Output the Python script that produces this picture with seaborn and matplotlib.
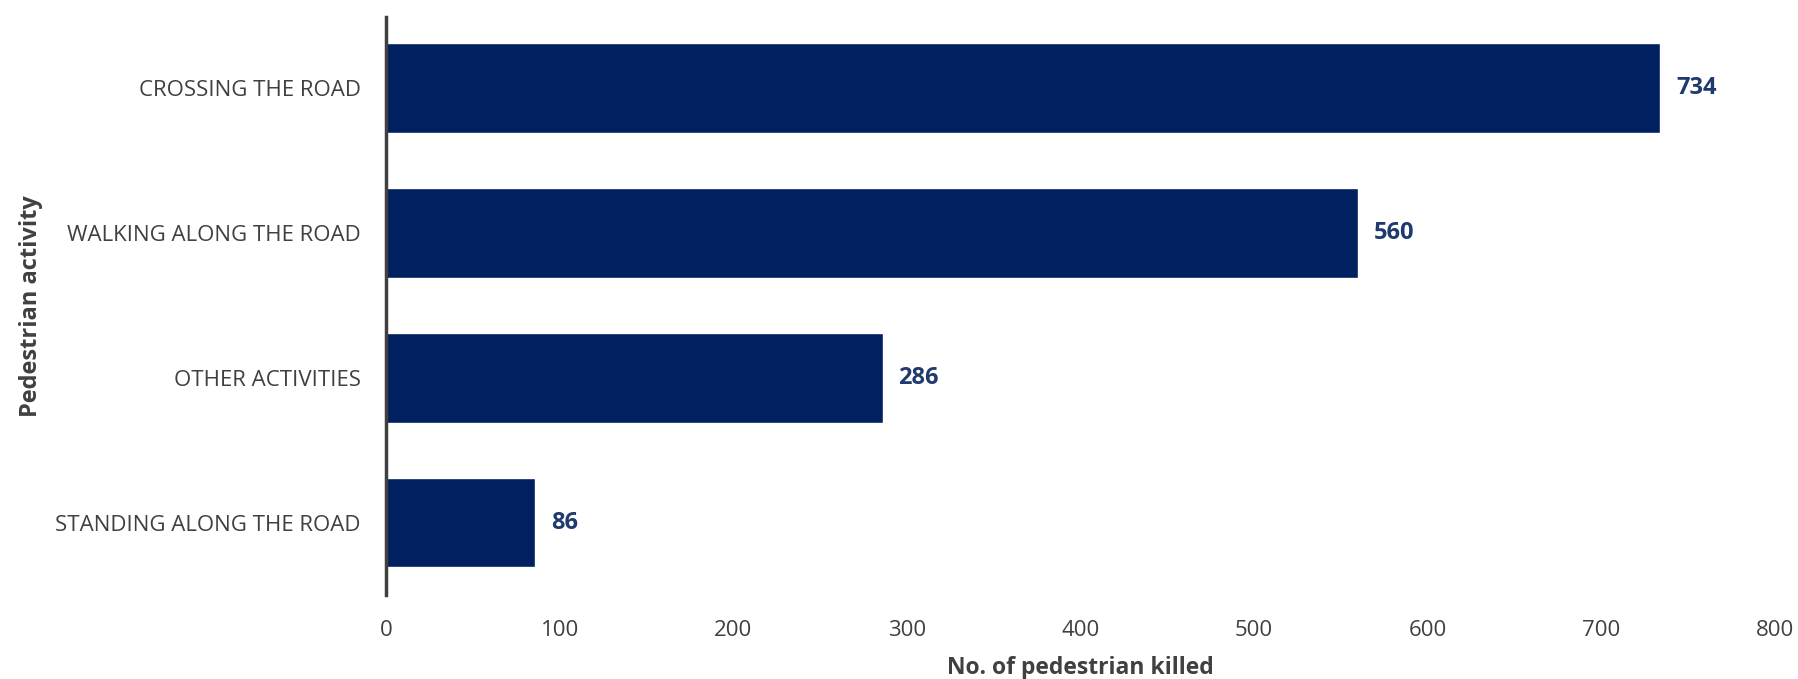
import matplotlib
matplotlib.use("Agg")
import matplotlib.pyplot as plt
import seaborn as sns
import pandas as pd

categories = ["CROSSING THE ROAD", "WALKING ALONG THE ROAD", "OTHER ACTIVITIES", "STANDING ALONG THE ROAD"]
values = [734, 560, 286, 86]
xticks = [0, 100, 200, 300, 400, 500, 600, 700, 800]

sns.set_theme(style="white")
plt.rcParams['font.family'] = ['Open Sans', 'DejaVu Sans']

df = pd.DataFrame({"activity": categories, "killed": values})

W, H = 1799, 679
x0, x1, y0, y1 = 386, 1775, 17, 595
fig = plt.figure(figsize=(W / 100, H / 100), dpi=100)
ax = fig.add_axes([x0 / W, 1 - y1 / H, (x1 - x0) / W, (y1 - y0) / H])

sns.barplot(data=df, x="killed", y="activity", orient="h", color="#00205F",
            saturation=1, width=0.62, ax=ax)

for i, v in enumerate(values):
    ax.text(v + 9, i, str(v), va="center", ha="left", fontsize=17,
            fontweight="bold", color="#1F3A6E")

ax.set_xlim(0, 800)
ax.set_ylim(3.5, -0.49)
ax.set_xticks(xticks)
ax.set_xticklabels([str(t) for t in xticks])
ax.tick_params(axis="x", length=0, pad=18, labelsize=16, labelcolor="#404040")
ax.tick_params(axis="y", length=0, pad=18, labelsize=16, labelcolor="#404040")

for s in ["top", "right", "bottom"]:
    ax.spines[s].set_visible(False)
ax.spines["left"].set_color("#404040")
ax.spines["left"].set_linewidth(2.5)

ax.set_xlabel("No. of pedestrian killed", fontsize=16.5, fontweight="bold",
              color="#404040")
ax.xaxis.set_label_coords(0.5, -(668 - y1) / (y1 - y0))
ax.xaxis.label.set_va("center")
ax.set_ylabel("Pedestrian activity", fontsize=17, fontweight="bold",
              color="#404040")
ax.yaxis.set_label_coords(-(x0 - 43) / (x1 - x0), 0.5)

fig.savefig("out.png", dpi=100)
